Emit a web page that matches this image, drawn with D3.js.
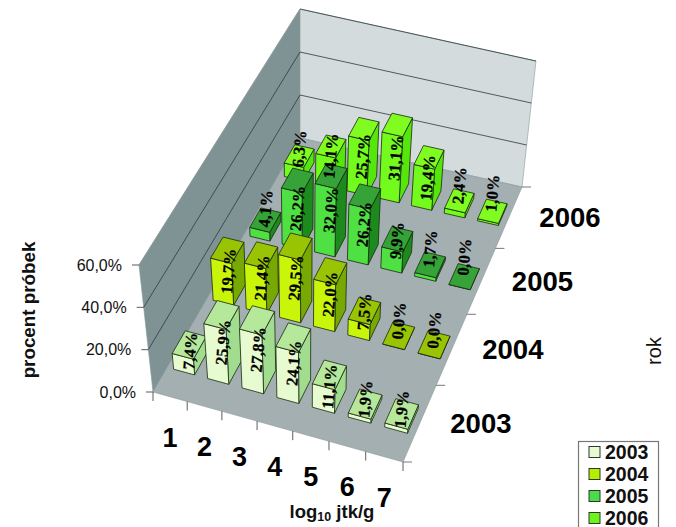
<!DOCTYPE html>
<html><head><meta charset="utf-8">
<script src="https://cdnjs.cloudflare.com/ajax/libs/d3/7.8.5/d3.min.js"></script>
<style>html,body{margin:0;padding:0;background:#fff}svg{display:block}</style>
</head><body><svg id="c" width="676" height="527"></svg>
<script>
const categories = ["1","2","3","4","5","6","7"];
const years = ["2003","2004","2005","2006"];
const v2003 = [7.4,25.9,27.8,24.1,11.1,1.9,1.9];
const v2004 = [19.7,21.4,29.5,22.0,7.5,0.0,0.0];
const v2005 = [4.1,26.2,32.0,26.2,9.9,1.7,0.0];
const v2006 = [6.3,14.1,25.7,31.1,19.4,2.4,1.0];
const seriesValues = [v2003,v2004,v2005,v2006];
const yTicks = [0,20,40,60];
const palette = [
 {front:"#e6fbd0",top:"#b6e89c",side:"#a2dc8e"},
 {front:"#c8f50a",top:"#98c404",side:"#78a802"},
 {front:"#4fe044",top:"#35a338",side:"#1c8a1c"},
 {front:"#72fb1c",top:"#80fc20",side:"#55e60c"}];
const legendColors = ["#e6fbd0","#b4ee00","#48dc48","#6cf51c"];
const labelLift = [21,26,30,30];

const fmt = v => d3.format(".1f")(v).replace(".",",")+"%";

function quad(p0,p1,p2,p3){
  const dx1=p1[0]-p2[0],dx2=p3[0]-p2[0],sx=p0[0]-p1[0]+p2[0]-p3[0];
  const dy1=p1[1]-p2[1],dy2=p3[1]-p2[1],sy=p0[1]-p1[1]+p2[1]-p3[1];
  const den=dx1*dy2-dx2*dy1;
  const g=(sx*dy2-dx2*sy)/den,h=(dx1*sy-sx*dy1)/den;
  const a=p1[0]-p0[0]+g*p1[0],b=p3[0]-p0[0]+h*p3[0],c=p0[0];
  const d=p1[1]-p0[1]+g*p1[1],e=p3[1]-p0[1]+h*p3[1],f=p0[1];
  return (u,v)=>{const w=g*u+h*v+1;return [(a*u+b*v+c)/w,(d*u+e*v+f)/w];};
}
const floorQ = quad([153,392],[403,462],[522,187],[300,138]);
const topQ   = quad([139,265],[410,335],[536,61],[300,9]);
const P = (u,v,hh)=>{const a=floorQ(u,v),b=topQ(u,v);return [a[0]+(b[0]-a[0])*hh,a[1]+(b[1]-a[1])*hh];};

const xBand = d3.scaleBand().domain(categories).range([0,1]).paddingInner(0.38).paddingOuter(0.19);
const zBand = d3.scaleBand().domain(years).range([0,1]).paddingInner(0.68).paddingOuter(0.34);
const yScale = d3.scaleLinear().domain([0,60]).range([0,1]);
const xStep = d3.scaleBand().domain(categories).range([0,1]);
const zStep = d3.scaleBand().domain(years).range([0,1]);

const svg = d3.select("#c");
const line = pts => "M"+pts.map(p=>p[0].toFixed(1)+","+p[1].toFixed(1)).join("L")+"Z";
const sans = "'Liberation Sans',Arial,sans-serif";
const serif = "'Liberation Serif','Times New Roman',serif";

// walls & floor
svg.append("path").attr("d",line([P(0,0,0),P(0,1,0),P(0,1,1),P(0,0,1)])).attr("fill","#7f9294").attr("stroke","#8a9899").attr("stroke-width",.6);
svg.append("path").attr("d",line([P(0,1,0),P(1,1,0),P(1,1,1),P(0,1,1)])).attr("fill","#d3dbdc").attr("stroke","#8a9899").attr("stroke-width",.6);
svg.append("path").attr("d",line([P(0,0,0),P(1,0,0),P(1,1,0),P(0,1,0)])).attr("fill","#a4afb1").attr("stroke","#8a9899").attr("stroke-width",.6);

// gridlines
yTicks.filter(t=>t>0).forEach(t=>{
  const h=yScale(t);
  svg.append("path").attr("d","M"+P(0,0,h)+"L"+P(0,1,h)).attr("fill","none").attr("stroke",t<60?"#2f3a3c":"#8a9899").attr("stroke-width",.8);
  svg.append("path").attr("d","M"+P(0,1,h)+"L"+P(1,1,h)).attr("fill","none").attr("stroke","#2f3a3c").attr("stroke-width",.8);
});

// axis ticks
yTicks.forEach(t=>{
  const p=P(0,0,yScale(t));
  svg.append("line").attr("x1",p[0]-7).attr("y1",p[1]).attr("x2",p[0]).attr("y2",p[1]).attr("stroke","#333").attr("stroke-width",.8);
  svg.append("text").attr("x",p[0]-17).attr("y",p[1]+5.5).attr("text-anchor","end").attr("font-family",sans).attr("font-size",16).attr("fill","#111").text(d3.format(".1f")(t).replace(".",",")+"%");
});
[...categories.map(c=>xStep(c)),1].forEach(u=>{
  const p=P(u,0,0);
  svg.append("line").attr("x1",p[0]).attr("y1",p[1]).attr("x2",p[0]).attr("y2",p[1]+9).attr("stroke","#333").attr("stroke-width",.8);
});
[...years.map(y=>zStep(y)),1].forEach(v=>{
  const p=P(1,v,0);
  svg.append("line").attr("x1",p[0]).attr("y1",p[1]).attr("x2",p[0]+9).attr("y2",p[1]).attr("stroke","#555").attr("stroke-width",.8);
});

// bars back to front, left to right
const labels=[];
d3.range(years.length-1,-1,-1).forEach(s=>{
  const y=years[s],col=palette[s];
  const v0=zBand(y),v1=v0+zBand.bandwidth();
  seriesValues[s].forEach((val,i)=>{
    const c=categories[i],u0=xBand(c),u1=u0+xBand.bandwidth(),uc=(u0+u1)/2,h=yScale(val);
    const g=svg.append("g").attr("stroke","#1a2a10").attr("stroke-width",.8).attr("stroke-linejoin","round");
    g.append("path").attr("d",line([P(u1,v0,0),P(u1,v1,0),P(u1,v1,h),P(u1,v0,h)])).attr("fill",col.side);
    g.append("path").attr("d",line([P(u0,v0,0),P(u1,v0,0),P(u1,v0,h),P(u0,v0,h)])).attr("fill",col.front);
    g.append("path").attr("d",line([P(u0,v0,h),P(u1,v0,h),P(u1,v1,h),P(u0,v1,h)])).attr("fill",col.top);
    const mid=P(uc,(v0+v1)/2,h/2), base=P(uc,v0,0);
    labels.push({x:mid[0],y:Math.min(mid[1],base[1]-labelLift[s]),t:fmt(val)});
  });
});
svg.append("g").selectAll("text").data(labels).join("text")
  .attr("transform",d=>`translate(${d.x},${d.y}) rotate(-85)`)
  .attr("text-anchor","middle").attr("dy","0.34em")
  .attr("font-family",serif).attr("font-weight","bold").attr("font-size",16.5)
  .attr("fill","#000").attr("stroke","#000").attr("stroke-width",.25)
  .text(d=>d.t);

// category labels
categories.forEach(c=>{
  const p=P(xStep(c)+xStep.bandwidth()/2,0,0);
  svg.append("text").attr("x",p[0]).attr("y",p[1]+41).attr("dy","0.33em").attr("text-anchor","middle")
    .attr("font-family",sans).attr("font-weight","bold").attr("font-size",27).attr("fill","#000").text(c);
});
// year labels
years.forEach(y=>{
  const p=P(1,zStep(y)+zStep.bandwidth()/2,0);
  svg.append("text").attr("x",p[0]+61).attr("y",p[1]).attr("dy","0.36em").attr("text-anchor","middle")
    .attr("font-family",sans).attr("font-weight","bold").attr("font-size",27.5).attr("fill","#000").text(y);
});

// titles
const xt=svg.append("text").attr("x",332).attr("y",518).attr("text-anchor","middle").attr("font-family",sans).attr("font-weight","bold").attr("font-size",18.5).attr("fill","#111");
xt.append("tspan").text("log");
xt.append("tspan").attr("font-size",12.5).attr("dy",3).text("10");
xt.append("tspan").attr("dy",-3).text(" jtk/g");
svg.append("text").attr("transform","translate(35,310) rotate(-90)").attr("text-anchor","middle").attr("font-family",sans).attr("font-weight","bold").attr("font-size",18.8).attr("fill","#111").text("procent próbek");
svg.append("text").attr("transform","translate(661,351) rotate(-90)").attr("text-anchor","middle").attr("font-family",sans).attr("font-size",20).attr("fill","#111").text("rok");

// legend
svg.append("rect").attr("x",578.5).attr("y",441.5).attr("width",80).attr("height",100).attr("fill","#fff").attr("stroke","#777").attr("stroke-width",1.2);
years.forEach((y,i)=>{
  const cy=452+i*22;
  svg.append("rect").attr("x",589).attr("y",cy-5.5).attr("width",11).attr("height",11).attr("fill",legendColors[i]).attr("stroke","#333").attr("stroke-width",1);
  svg.append("text").attr("x",605).attr("y",cy+6.5).attr("font-family",sans).attr("font-weight","bold").attr("font-size",19.5).attr("fill","#111").text(y);
});
</script></body></html>
